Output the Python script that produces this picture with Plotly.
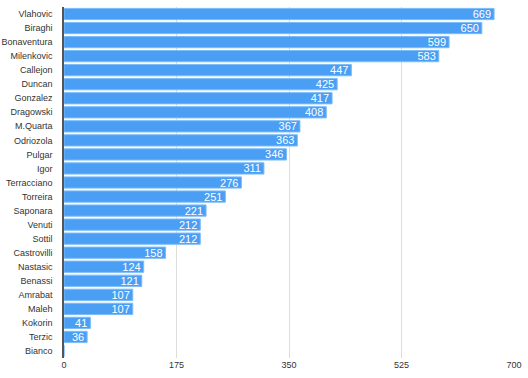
import plotly.graph_objects as go

players = ["Vlahovic", "Biraghi", "Bonaventura", "Milenkovic", "Callejon", "Duncan",
           "Gonzalez", "Dragowski", "M.Quarta", "Odriozola", "Pulgar", "Igor",
           "Terracciano", "Torreira", "Saponara", "Venuti", "Sottil", "Castrovilli",
           "Nastasic", "Benassi", "Amrabat", "Maleh", "Kokorin", "Terzic", "Bianco"]
values = [669, 650, 599, 583, 447, 425, 417, 408, 367, 363, 346, 311, 276, 251, 221,
          212, 212, 158, 124, 121, 107, 107, 41, 36, 0]
x_ticks = [0, 175, 350, 525, 700]

fig = go.Figure(go.Bar(
    x=values, y=players, orientation="h",
    marker=dict(color="#4a9ef3", line=dict(color="#7cbcf8", width=1)),
    text=[str(v) if v > 0 else "" for v in values],
    textposition="inside", insidetextanchor="end",
    textfont=dict(color="white", size=11, family="Liberation Sans, Arial"),
    cliponaxis=False,
))

fig.update_layout(
    width=528, height=378,
    margin=dict(l=64, r=14, t=7, b=20),
    paper_bgcolor="white", plot_bgcolor="white",
    bargap=0.2,
    showlegend=False,
    font=dict(family="Liberation Sans, Arial", size=9, color="#333"),
    uniformtext=dict(minsize=9, mode="show"),
)
fig.update_xaxes(range=[0, 700], tickvals=x_ticks, showgrid=True, gridcolor="#dddddd",
                 gridwidth=1, zeroline=False, showline=False, ticks="",
                 automargin=False, tickfont=dict(size=9, color="#333"))
fig.update_yaxes(categoryorder="array", categoryarray=players[::-1], autorange=True,
                 showline=True, linecolor="#555", linewidth=1.5, ticks="",
                 automargin=False, ticklabelstandoff=8,
                 tickfont=dict(size=9, color="#333"))

fig.write_html("out.html", config={"displayModeBar": False},
               post_script="document.body.style.margin='0';document.body.style.overflow='hidden';")
